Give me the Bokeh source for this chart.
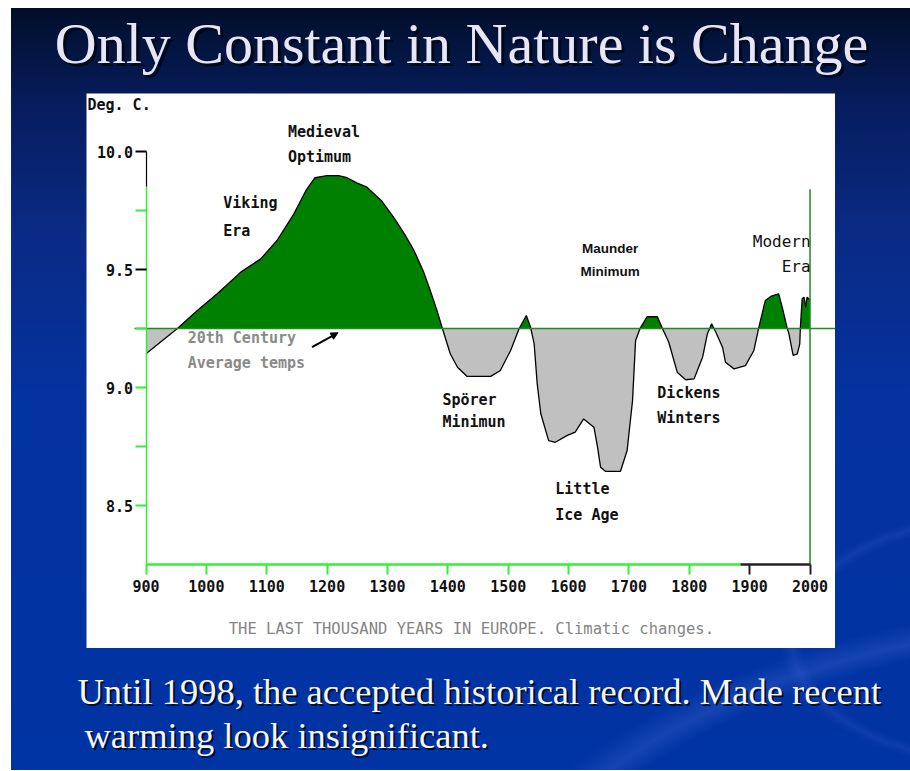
from bokeh.plotting import figure
from bokeh.models import (LinearAxis, FixedTicker, Range1d, Label, Arrow, NormalHead, Column)
from bokeh.embed import file_html
from bokeh.resources import INLINE
import numpy as np

# ---------------- data ----------------
years = [900, 952, 985, 1018, 1057, 1090, 1117, 1145, 1165, 1180, 1200, 1219, 1233, 1250,
         1266, 1290, 1310, 1328, 1344, 1360, 1371, 1382, 1391, 1404, 1416, 1432, 1450, 1471,
         1487, 1504, 1518, 1530, 1537, 1543, 1548, 1554, 1567, 1578, 1598, 1611, 1625, 1642,
         1648, 1653, 1661, 1686, 1697, 1706, 1711, 1719, 1730, 1747, 1755, 1766, 1780, 1794,
         1808, 1822, 1830, 1837, 1844, 1855, 1860, 1874, 1893, 1907, 1915, 1926, 1935, 1948,
         1954, 1962, 1965, 1972, 1979, 1983, 1984, 1987, 1990, 1993, 1995, 1998, 2000]
temps = [9.143, 9.25, 9.326, 9.397, 9.489, 9.545, 9.623, 9.736, 9.835, 9.889, 9.898, 9.898,
         9.889, 9.866, 9.849, 9.792, 9.722, 9.651, 9.58, 9.489, 9.41, 9.326, 9.25, 9.143,
         9.086, 9.047, 9.047, 9.047, 9.072, 9.157, 9.249, 9.305, 9.256, 9.185, 9.016, 8.889,
         8.775, 8.768, 8.797, 8.811, 8.867, 8.832, 8.747, 8.662, 8.645, 8.645, 8.733, 8.945,
         9.199, 9.253, 9.30, 9.30, 9.253, 9.192, 9.065, 9.033, 9.037, 9.128, 9.228, 9.27,
         9.234, 9.171, 9.107, 9.079, 9.093, 9.157, 9.253, 9.369, 9.386, 9.397, 9.34, 9.253,
         9.228, 9.136, 9.143, 9.185, 9.253, 9.376, 9.383, 9.34, 9.383, 9.376, 9.37]
AVG = 9.25  # 20th century average

x_ticks_green = [900, 1000, 1100, 1200, 1300, 1400, 1500, 1600, 1700, 1800]
x_ticks_black = [1900, 2000]
y_ticks_green = [8.5, 9.0]
y_minor_green = [8.75, 9.25, 9.75]
y_ticks_black = [9.5, 10.0]
y_tick_labels = {8.5: "8.5", 9.0: "9.0", 9.5: "9.5", 10.0: "10.0"}

MONO = "DejaVu Sans Mono"
LIME = "#33f033"
DKGREEN = "#1f8a1f"

# ---------------- chart panel ----------------
p = figure(width=749, height=555, x_range=Range1d(801.4, 2042.2),
           y_range=Range1d(7.894, 10.246), x_axis_type=None, y_axis_type=None,
           toolbar_location=None, output_backend="svg", min_border=0,
           background_fill_color="white", border_fill_color="white",
           outline_line_color=None, margin=(0, 0, 0, 86))

# insert crossing points with the average line so fills split cleanly
xs, ys = [], []
for i in range(len(years)):
    if i > 0:
        d0, d1 = temps[i - 1] - AVG, temps[i] - AVG
        if d0 * d1 < 0:
            t = d0 / (d0 - d1)
            xs.append(years[i - 1] + t * (years[i] - years[i - 1]))
            ys.append(AVG)
    xs.append(years[i])
    ys.append(temps[i])
xs = np.array(xs, dtype=float)
ys = np.array(ys, dtype=float)
base = np.full_like(xs, AVG)

p.varea(x=xs, y1=base, y2=np.maximum(ys, AVG), fill_color="#008000")
p.varea(x=xs, y1=np.minimum(ys, AVG), y2=base, fill_color="#c0c0c0")
p.line(years, temps, line_color="black", line_width=1.3)

# average line and right border line
p.segment(x0=[881], x1=[2042.2], y0=[AVG], y1=[AVG], line_color=DKGREEN, line_width=1.5)
p.segment(x0=[2000], x1=[2000], y0=[8.25], y1=[9.84], line_color=DKGREEN, line_width=1.5)


def style_axis(ax, color, width):
    ax.axis_line_color = color
    ax.axis_line_width = width
    ax.major_tick_line_color = color
    ax.major_tick_line_width = 2
    ax.minor_tick_line_color = color
    ax.minor_tick_line_width = 2
    ax.major_tick_in = 0
    ax.minor_tick_in = 0
    ax.major_label_text_font = MONO
    ax.major_label_text_font_size = "15px"
    ax.major_label_text_font_style = "bold"
    ax.major_label_text_color = "#111111"


# y axes
ayg = LinearAxis(fixed_location=900, bounds=(8.25, 9.85),
                 ticker=FixedTicker(ticks=y_ticks_green, minor_ticks=y_minor_green),
                 major_label_overrides=y_tick_labels)
style_axis(ayg, LIME, 1.5)
ayg.major_tick_out = 11
ayg.minor_tick_out = 11
ayg.major_label_standoff = 2
p.add_layout(ayg, "left")

ayk = LinearAxis(fixed_location=900, bounds=(9.4, 10.0),
                 ticker=FixedTicker(ticks=y_ticks_black, minor_ticks=[]),
                 major_label_overrides=y_tick_labels)
style_axis(ayk, "black", 1)
ayk.axis_line_color = None
ayk.major_tick_out = 11
ayk.major_label_standoff = 2
p.add_layout(ayk, "left")

ayk2 = LinearAxis(fixed_location=900, bounds=(9.85, 10.0),
                  ticker=FixedTicker(ticks=[], minor_ticks=[]))
style_axis(ayk2, "black", 1.2)
p.add_layout(ayk2, "left")

# x axes
axg = LinearAxis(fixed_location=8.25, bounds=(900, 1885),
                 ticker=FixedTicker(ticks=x_ticks_green, minor_ticks=[]))
style_axis(axg, LIME, 2.5)
axg.major_tick_out = 10
axg.major_label_standoff = 6
p.add_layout(axg, "below")

axk = LinearAxis(fixed_location=8.25, bounds=(1885, 2000),
                 ticker=FixedTicker(ticks=x_ticks_black, minor_ticks=[]))
style_axis(axk, "#222222", 2.5)
axk.major_tick_out = 10
axk.major_label_standoff = 6
p.add_layout(axk, "below")


def lab(x, y, text, color="#111111", size="15px", font=MONO, align="left", style="bold"):
    p.add_layout(Label(x=x, y=y, text=text, text_color=color, text_font=font,
                       text_font_size=size, text_align=align, text_baseline="top",
                       text_font_style=style))


lab(803, 10.235, "Deg. C.")
lab(1135, 10.119, "Medieval")
lab(1135, 10.013, "Optimum")
lab(1028, 9.818, "Viking")
lab(1028, 9.703, "Era")
lab(969, 9.246, "20th Century", color="#8a8a8a")
lab(969, 9.144, "Average temps", color="#8a8a8a")
lab(1391, 8.987, "Spörer")
lab(1391, 8.89, "Minimun")
lab(1578, 8.606, "Little")
lab(1578, 8.50, "Ice Age")
lab(1747, 9.013, "Dickens")
lab(1747, 8.911, "Winters")
lab(1669, 9.623, "Maunder", font="Liberation Sans", size="13.5px", align="center")
lab(1669, 9.525, "Minimum", font="Liberation Sans", size="13.5px", align="center")
lab(2001, 9.66, "Modern", size="16px", align="right", style="normal")
lab(2001, 9.553, "Era", size="16px", align="right", style="normal")
lab(1037, 8.013, "THE LAST THOUSAND YEARS IN EUROPE. Climatic changes.", color="#858585",
    size="15.5px", style="normal")

p.add_layout(Arrow(end=NormalHead(size=7, fill_color="black", line_color="black"),
                   x_start=1175, y_start=9.171, x_end=1218, y_end=9.232,
                   line_color="black", line_width=2))

# ---------------- title and footer ----------------
def text_fig(h):
    f = figure(width=910, height=h, x_range=Range1d(0, 1), y_range=Range1d(0, 1),
               x_axis_type=None, y_axis_type=None, toolbar_location=None,
               output_backend="svg", min_border=0, outline_line_color=None,
               background_fill_alpha=0, border_fill_alpha=0)
    return f


def shadow_text(f, x, y, text, size, color, align="left", off=3):
    f.add_layout(Label(x=x + off, y=y - off, x_units="screen", y_units="screen", text=text,
                       text_font="Liberation Serif", text_font_size=size,
                       text_color="#000614", text_alpha=0.85, text_align=align,
                       text_baseline="top"))
    f.add_layout(Label(x=x, y=y, x_units="screen", y_units="screen", text=text,
                       text_font="Liberation Serif", text_font_size=size,
                       text_color=color, text_align=align, text_baseline="top"))


top = text_fig(93)
shadow_text(top, 461, 83, "Only Constant in Nature is Change", "58px", "#e6e6f6", align="center")

bottom = text_fig(122)
shadow_text(bottom, 77, 100, "Until 1998, the accepted historical record. Made recent", "36.5px",
            "#f6f6f6", off=2)
shadow_text(bottom, 84, 56, "warming look insignificant.", "36.5px", "#f6f6f6", off=2)

bg = ("linear-gradient(to right, #ffffff 0px, #ffffff 11px, rgba(0,0,0,0) 11px), "
      "linear-gradient(to bottom, #ffffff 0px, #ffffff 8px, rgba(0,0,0,0) 8px), "
      "radial-gradient(685px 384px at 1150px 1000px, rgba(0,0,0,0) 0%, rgba(0,0,0,0) 95%, "
      "rgba(70,110,215,0.30) 99%, rgba(0,0,0,0) 104%), "
      "radial-gradient(230px 130px at 1010px 640px, rgba(0,0,0,0) 0%, rgba(0,0,0,0) 90%, "
      "rgba(40,80,190,0.35) 95%, rgba(0,0,0,0) 100%), "
      "linear-gradient(to bottom, #020a24 0%, #031236 4%, #061c5c 13%, #0a2a84 30%, "
      "#0433a0 52%, #0033a3 100%)")

page = Column(children=[top, p, bottom], spacing=0, styles={"background": bg})

open("out.html", "w").write(file_html(page, INLINE))
